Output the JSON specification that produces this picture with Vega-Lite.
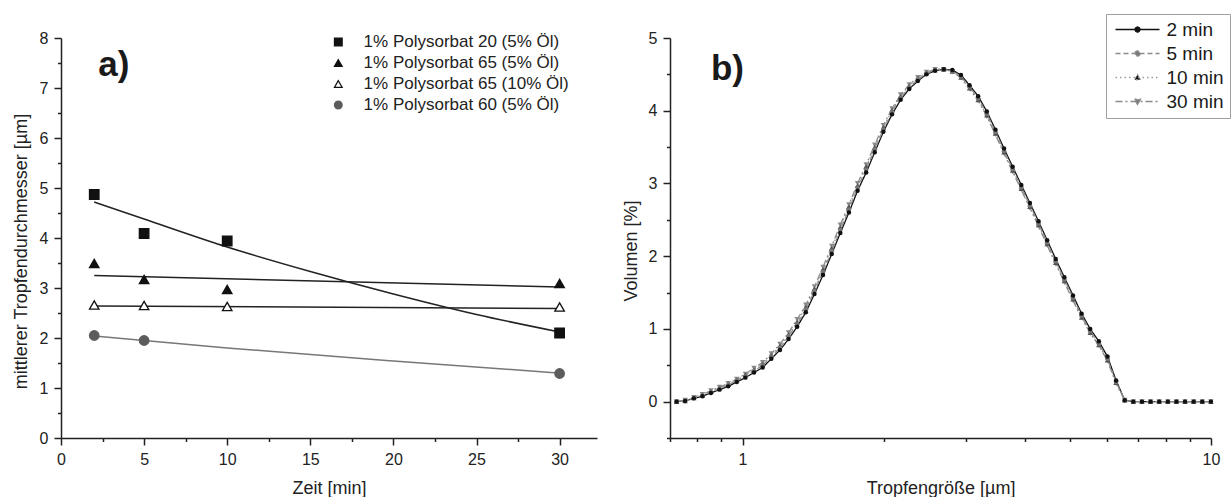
{
  "$schema": "https://vega.github.io/schema/vega-lite/v6.json",
  "background": "white",
  "padding": {"left": 12, "top": 13, "right": 0, "bottom": 0},
  "spacing": 25,
  "resolve": {
    "scale": {"shape": "independent", "fill": "independent", "stroke": "independent", "strokeDash": "independent", "color": "independent"},
    "legend": {"shape": "independent", "fill": "independent", "stroke": "independent", "strokeDash": "independent", "color": "independent"}
  },
  "config": {
    "font": "Liberation Sans",
    "view": {"stroke": null},
    "axis": {
      "grid": false,
      "domainColor": "#222222",
      "domainWidth": 1.5,
      "tickColor": "#222222",
      "tickWidth": 1.5,
      "labelColor": "#222222",
      "labelFont": "Liberation Sans",
      "labelFontSize": 16,
      "labelPadding": 6,
      "titleColor": "#222222",
      "titleFont": "Liberation Sans",
      "titleFontSize": 18,
      "titleFontWeight": "normal"
    },
    "legend": {"labelFont": "Liberation Sans"}
  },
  "datasets": {
    "messwerte": [
      {"Probe": "1% Polysorbat 20 (5% Öl)", "Zeit": 2, "D": 4.87},
      {"Probe": "1% Polysorbat 20 (5% Öl)", "Zeit": 5, "D": 4.09},
      {"Probe": "1% Polysorbat 20 (5% Öl)", "Zeit": 10, "D": 3.94},
      {"Probe": "1% Polysorbat 20 (5% Öl)", "Zeit": 30, "D": 2.1},
      {"Probe": "1% Polysorbat 65 (5% Öl)", "Zeit": 2, "D": 3.49},
      {"Probe": "1% Polysorbat 65 (5% Öl)", "Zeit": 5, "D": 3.17},
      {"Probe": "1% Polysorbat 65 (5% Öl)", "Zeit": 10, "D": 2.97},
      {"Probe": "1% Polysorbat 65 (5% Öl)", "Zeit": 30, "D": 3.09},
      {"Probe": "1% Polysorbat 65 (10% Öl)", "Zeit": 2, "D": 2.66},
      {"Probe": "1% Polysorbat 65 (10% Öl)", "Zeit": 5, "D": 2.65},
      {"Probe": "1% Polysorbat 65 (10% Öl)", "Zeit": 10, "D": 2.63},
      {"Probe": "1% Polysorbat 65 (10% Öl)", "Zeit": 30, "D": 2.62},
      {"Probe": "1% Polysorbat 60 (5% Öl)", "Zeit": 2, "D": 2.05},
      {"Probe": "1% Polysorbat 60 (5% Öl)", "Zeit": 5, "D": 1.95},
      {"Probe": "1% Polysorbat 60 (5% Öl)", "Zeit": 30, "D": 1.29}
    ],
    "anpassung": [
      {"Probe": "1% Polysorbat 20 (5% Öl)", "Zeit": 2, "D": 4.72},
      {"Probe": "1% Polysorbat 20 (5% Öl)", "Zeit": 5, "D": 4.38},
      {"Probe": "1% Polysorbat 20 (5% Öl)", "Zeit": 10, "D": 3.82},
      {"Probe": "1% Polysorbat 20 (5% Öl)", "Zeit": 15, "D": 3.33},
      {"Probe": "1% Polysorbat 20 (5% Öl)", "Zeit": 20, "D": 2.88},
      {"Probe": "1% Polysorbat 20 (5% Öl)", "Zeit": 25, "D": 2.47},
      {"Probe": "1% Polysorbat 20 (5% Öl)", "Zeit": 30, "D": 2.12},
      {"Probe": "1% Polysorbat 65 (5% Öl)", "Zeit": 2, "D": 3.25},
      {"Probe": "1% Polysorbat 65 (5% Öl)", "Zeit": 30, "D": 3.02},
      {"Probe": "1% Polysorbat 65 (10% Öl)", "Zeit": 2, "D": 2.64},
      {"Probe": "1% Polysorbat 65 (10% Öl)", "Zeit": 30, "D": 2.59},
      {"Probe": "1% Polysorbat 60 (5% Öl)", "Zeit": 2, "D": 2.04},
      {"Probe": "1% Polysorbat 60 (5% Öl)", "Zeit": 10, "D": 1.8},
      {"Probe": "1% Polysorbat 60 (5% Öl)", "Zeit": 20, "D": 1.54},
      {"Probe": "1% Polysorbat 60 (5% Öl)", "Zeit": 30, "D": 1.3}
    ],
    "verteilung": [
      {"d": 0.723, "2 min": 0, "5 min": 0, "10 min": 0, "30 min": 0},
      {"d": 0.754, "2 min": 0.01, "5 min": 0.01, "10 min": 0.01, "30 min": 0.02},
      {"d": 0.787, "2 min": 0.045, "5 min": 0.05, "10 min": 0.05, "30 min": 0.06},
      {"d": 0.821, "2 min": 0.075, "5 min": 0.08, "10 min": 0.09, "30 min": 0.1},
      {"d": 0.856, "2 min": 0.12, "5 min": 0.13, "10 min": 0.14, "30 min": 0.15},
      {"d": 0.893, "2 min": 0.165, "5 min": 0.18, "10 min": 0.19, "30 min": 0.2},
      {"d": 0.932, "2 min": 0.21, "5 min": 0.23, "10 min": 0.24, "30 min": 0.25},
      {"d": 0.972, "2 min": 0.27, "5 min": 0.29, "10 min": 0.3, "30 min": 0.31},
      {"d": 1.014, "2 min": 0.33, "5 min": 0.35, "10 min": 0.37, "30 min": 0.38},
      {"d": 1.058, "2 min": 0.4, "5 min": 0.42, "10 min": 0.44, "30 min": 0.46},
      {"d": 1.104, "2 min": 0.47, "5 min": 0.5, "10 min": 0.52, "30 min": 0.54},
      {"d": 1.152, "2 min": 0.59, "5 min": 0.62, "10 min": 0.64, "30 min": 0.66},
      {"d": 1.202, "2 min": 0.71, "5 min": 0.74, "10 min": 0.77, "30 min": 0.79},
      {"d": 1.254, "2 min": 0.86, "5 min": 0.9, "10 min": 0.92, "30 min": 0.95},
      {"d": 1.308, "2 min": 1.03, "5 min": 1.07, "10 min": 1.1, "30 min": 1.13},
      {"d": 1.365, "2 min": 1.23, "5 min": 1.27, "10 min": 1.3, "30 min": 1.33},
      {"d": 1.424, "2 min": 1.48, "5 min": 1.52, "10 min": 1.55, "30 min": 1.58},
      {"d": 1.485, "2 min": 1.74, "5 min": 1.78, "10 min": 1.82, "30 min": 1.85},
      {"d": 1.55, "2 min": 2.03, "5 min": 2.07, "10 min": 2.11, "30 min": 2.14},
      {"d": 1.617, "2 min": 2.32, "5 min": 2.36, "10 min": 2.4, "30 min": 2.43},
      {"d": 1.687, "2 min": 2.6, "5 min": 2.64, "10 min": 2.68, "30 min": 2.71},
      {"d": 1.76, "2 min": 2.9, "5 min": 2.94, "10 min": 2.97, "30 min": 3.0},
      {"d": 1.836, "2 min": 3.15, "5 min": 3.19, "10 min": 3.23, "30 min": 3.26},
      {"d": 1.915, "2 min": 3.43, "5 min": 3.47, "10 min": 3.5, "30 min": 3.53},
      {"d": 1.998, "2 min": 3.71, "5 min": 3.74, "10 min": 3.77, "30 min": 3.8},
      {"d": 2.085, "2 min": 3.95, "5 min": 3.98, "10 min": 4.01, "30 min": 4.03},
      {"d": 2.175, "2 min": 4.15, "5 min": 4.18, "10 min": 4.2, "30 min": 4.22},
      {"d": 2.269, "2 min": 4.3, "5 min": 4.32, "10 min": 4.34, "30 min": 4.36},
      {"d": 2.367, "2 min": 4.41, "5 min": 4.43, "10 min": 4.44, "30 min": 4.46},
      {"d": 2.469, "2 min": 4.5, "5 min": 4.51, "10 min": 4.52, "30 min": 4.53},
      {"d": 2.576, "2 min": 4.55, "5 min": 4.56, "10 min": 4.56, "30 min": 4.57},
      {"d": 2.688, "2 min": 4.57, "5 min": 4.57, "10 min": 4.57, "30 min": 4.57},
      {"d": 2.804, "2 min": 4.56, "5 min": 4.55, "10 min": 4.54, "30 min": 4.54},
      {"d": 2.926, "2 min": 4.49, "5 min": 4.47, "10 min": 4.46, "30 min": 4.45},
      {"d": 3.052, "2 min": 4.35, "5 min": 4.33, "10 min": 4.31, "30 min": 4.3},
      {"d": 3.184, "2 min": 4.2, "5 min": 4.17, "10 min": 4.15, "30 min": 4.14},
      {"d": 3.322, "2 min": 3.99, "5 min": 3.96, "10 min": 3.94, "30 min": 3.92},
      {"d": 3.466, "2 min": 3.74, "5 min": 3.71, "10 min": 3.69, "30 min": 3.67},
      {"d": 3.616, "2 min": 3.48, "5 min": 3.45, "10 min": 3.43, "30 min": 3.41},
      {"d": 3.772, "2 min": 3.23, "5 min": 3.2, "10 min": 3.18, "30 min": 3.16},
      {"d": 3.936, "2 min": 2.98, "5 min": 2.95, "10 min": 2.93, "30 min": 2.91},
      {"d": 4.106, "2 min": 2.73, "5 min": 2.7, "10 min": 2.68, "30 min": 2.66},
      {"d": 4.284, "2 min": 2.48, "5 min": 2.45, "10 min": 2.43, "30 min": 2.41},
      {"d": 4.469, "2 min": 2.22, "5 min": 2.19, "10 min": 2.17, "30 min": 2.15},
      {"d": 4.662, "2 min": 1.96, "5 min": 1.93, "10 min": 1.91, "30 min": 1.89},
      {"d": 4.864, "2 min": 1.71, "5 min": 1.68, "10 min": 1.66, "30 min": 1.64},
      {"d": 5.075, "2 min": 1.46, "5 min": 1.43, "10 min": 1.41, "30 min": 1.39},
      {"d": 5.294, "2 min": 1.21, "5 min": 1.18, "10 min": 1.16, "30 min": 1.15},
      {"d": 5.523, "2 min": 1.0, "5 min": 0.97, "10 min": 0.95, "30 min": 0.94},
      {"d": 5.762, "2 min": 0.83, "5 min": 0.8, "10 min": 0.78, "30 min": 0.77},
      {"d": 6.012, "2 min": 0.62, "5 min": 0.59, "10 min": 0.57, "30 min": 0.56},
      {"d": 6.272, "2 min": 0.29, "5 min": 0.27, "10 min": 0.26, "30 min": 0.25},
      {"d": 6.543, "2 min": 0.02, "5 min": 0.02, "10 min": 0.02, "30 min": 0.02},
      {"d": 6.827, "2 min": 0, "5 min": 0, "10 min": 0, "30 min": 0},
      {"d": 7.122, "2 min": 0, "5 min": 0, "10 min": 0, "30 min": 0},
      {"d": 7.43, "2 min": 0, "5 min": 0, "10 min": 0, "30 min": 0},
      {"d": 7.752, "2 min": 0, "5 min": 0, "10 min": 0, "30 min": 0},
      {"d": 8.087, "2 min": 0, "5 min": 0, "10 min": 0, "30 min": 0},
      {"d": 8.437, "2 min": 0, "5 min": 0, "10 min": 0, "30 min": 0},
      {"d": 8.802, "2 min": 0, "5 min": 0, "10 min": 0, "30 min": 0},
      {"d": 9.183, "2 min": 0, "5 min": 0, "10 min": 0, "30 min": 0},
      {"d": 9.581, "2 min": 0, "5 min": 0, "10 min": 0, "30 min": 0},
      {"d": 9.995, "2 min": 0, "5 min": 0, "10 min": 0, "30 min": 0}
    ]
  },
  "hconcat": [
    {
      "width": 536,
      "height": 400,
      "layer": [
        {
          "data": {"name": "anpassung"},
          "transform": [{"filter": "datum.Probe !== '1% Polysorbat 60 (5% Öl)'"}],
          "mark": {"type": "line", "interpolate": "monotone", "color": "#222222", "strokeWidth": 1.5},
          "encoding": {
            "x": {
              "field": "Zeit", "type": "quantitative",
              "scale": {"domain": [0, 32.25], "nice": false, "zero": false},
              "axis": {
                "title": "Zeit [min]",
                "values": [0, 2.5, 5, 7.5, 10, 12.5, 15, 17.5, 20, 22.5, 25, 27.5, 30],
                "tickCount": 50,
                "labelExpr": "datum.value % 5 === 0 ? format(datum.value, 'd') : ''",
                "tickSize": {"condition": {"test": "datum.value % 5 !== 0", "value": 3.5}, "value": 7},
                "labelOverlap": false,
                "labelFlush": false,
                "titlePadding": 12
              }
            },
            "y": {
              "field": "D", "type": "quantitative",
              "scale": {"domain": [0, 8], "nice": false},
              "axis": {
                "title": "mittlerer Tropfendurchmesser [µm]",
                "values": [0, 0.5, 1, 1.5, 2, 2.5, 3, 3.5, 4, 4.5, 5, 5.5, 6, 6.5, 7, 7.5, 8],
                "tickCount": 50,
                "labelExpr": "datum.value % 1 === 0 ? format(datum.value, 'd') : ''",
                "tickSize": {"condition": {"test": "datum.value % 1 !== 0", "value": 3.5}, "value": 7},
                "labelOverlap": false,
                "titlePadding": 9,
                "titleY": 213
              }
            },
            "detail": {"field": "Probe"}
          }
        },
        {
          "data": {"name": "anpassung"},
          "transform": [{"filter": "datum.Probe === '1% Polysorbat 60 (5% Öl)'"}],
          "mark": {"type": "line", "interpolate": "monotone", "color": "#777777", "strokeWidth": 1.5},
          "encoding": {
            "x": {"field": "Zeit", "type": "quantitative"},
            "y": {"field": "D", "type": "quantitative"}
          }
        },
        {
          "data": {"name": "messwerte"},
          "mark": {"type": "point", "size": 90, "strokeWidth": 1.3, "opacity": 1},
          "encoding": {
            "x": {"field": "Zeit", "type": "quantitative"},
            "y": {"field": "D", "type": "quantitative"},
            "shape": {
              "field": "Probe", "type": "nominal",
              "scale": {
                "domain": ["1% Polysorbat 20 (5% Öl)", "1% Polysorbat 65 (5% Öl)", "1% Polysorbat 65 (10% Öl)", "1% Polysorbat 60 (5% Öl)"],
                "range": ["square", "triangle-up", "triangle-up", "circle"]
              },
              "legend": {"orient": "none", "legendX": 268.8, "legendY": -4.5, "title": null, "padding": 0, "labelFontSize": 17, "labelColor": "#222222", "labelOffset": 16.8, "symbolSize": 60, "symbolStrokeWidth": 1.2, "symbolOpacity": 1, "symbolFillColor": "#000000", "symbolStrokeColor": "#000000", "rowPadding": 3, "labelLimit": 400}
            },
            "fill": {
              "field": "Probe", "type": "nominal",
              "scale": {
                "domain": ["1% Polysorbat 20 (5% Öl)", "1% Polysorbat 65 (5% Öl)", "1% Polysorbat 65 (10% Öl)", "1% Polysorbat 60 (5% Öl)"],
                "range": ["#111111", "#111111", "#ffffff", "#5c5c5c"]
              },
              "legend": {"orient": "none", "legendX": 268.8, "legendY": -4.5, "title": null, "padding": 0, "labelFontSize": 17, "labelColor": "#222222", "labelOffset": 16.8, "symbolSize": 60, "symbolStrokeWidth": 1.2, "symbolOpacity": 1, "symbolFillColor": "#000000", "symbolStrokeColor": "#000000", "rowPadding": 3, "labelLimit": 400}
            },
            "stroke": {
              "field": "Probe", "type": "nominal",
              "scale": {
                "domain": ["1% Polysorbat 20 (5% Öl)", "1% Polysorbat 65 (5% Öl)", "1% Polysorbat 65 (10% Öl)", "1% Polysorbat 60 (5% Öl)"],
                "range": ["#111111", "#111111", "#111111", "#5c5c5c"]
              },
              "legend": {"orient": "none", "legendX": 268.8, "legendY": -4.5, "title": null, "padding": 0, "labelFontSize": 17, "labelColor": "#222222", "labelOffset": 16.8, "symbolSize": 60, "symbolStrokeWidth": 1.2, "symbolOpacity": 1, "symbolFillColor": "#000000", "symbolStrokeColor": "#000000", "rowPadding": 3, "labelLimit": 400}
            }
          }
        },
        {
          "data": {"values": [{"Teil": "a)"}]},
          "mark": {"type": "text", "fontSize": 35, "fontWeight": "bold", "align": "left", "baseline": "alphabetic", "color": "#1a1a1a"},
          "encoding": {
            "x": {"datum": 2.24, "type": "quantitative"},
            "y": {"datum": 7.25, "type": "quantitative"},
            "text": {"field": "Teil"}
          }
        }
      ]
    },
    {
      "width": 541,
      "height": 400,
      "data": {"name": "verteilung"},
      "transform": [{"fold": ["2 min", "5 min", "10 min", "30 min"], "as": ["Dauer", "Volumen"]}],
      "layer": [
        {
          "mark": {"type": "line", "strokeWidth": 1.3, "clip": true},
          "encoding": {
            "x": {
              "field": "d", "type": "quantitative",
              "scale": {"type": "log", "domain": [0.7, 10], "nice": false},
              "axis": {
                "title": "Tropfengröße [µm]",
                "values": [0.7, 0.8, 0.9, 1, 2, 3, 4, 5, 6, 7, 8, 9, 10],
                "tickCount": 50,
                "labelExpr": "datum.value === 1 ? '1' : datum.value === 10 ? '10' : ''",
                "tickSize": {"condition": {"test": "datum.value !== 1 && datum.value !== 10", "value": 3.5}, "value": 7},
                "labelOverlap": false,
                "labelFlush": false,
                "titlePadding": 12
              }
            },
            "y": {
              "field": "Volumen", "type": "quantitative",
              "scale": {"domain": [-0.5, 5], "nice": false, "zero": false},
              "axis": {
                "title": "Volumen [%]",
                "values": [-0.5, 0, 0.5, 1, 1.5, 2, 2.5, 3, 3.5, 4, 4.5, 5],
                "tickCount": 50,
                "labelExpr": "datum.value % 1 === 0 ? format(datum.value, 'd') : ''",
                "tickSize": {"condition": {"test": "datum.value % 1 !== 0", "value": 3.5}, "value": 7},
                "labelOverlap": false,
                "titlePadding": 8,
                "titleY": 212.5
              }
            },
            "stroke": {
              "field": "Dauer", "type": "nominal",
              "scale": {"domain": ["2 min", "5 min", "10 min", "30 min"], "range": ["#111111", "#8a8a8a", "#9a9a9a", "#8a8a8a"]},
              "legend": {"orient": "none", "legendX": 436, "legendY": -24, "title": null, "padding": 6, "strokeColor": "#a0a0a0", "fillColor": "#ffffff", "labelFontSize": 19, "labelColor": "#1a1a1a", "labelOffset": 19.5, "symbolOffset": 16, "symbolSize": 100, "symbolStrokeWidth": 1.3, "symbolOpacity": 1, "symbolStrokeColor": "#000000", "rowPadding": 4, "labelLimit": 300,
                "encoding": {"symbols": {"fill": {"condition": {"test": "datum.value === '5 min' || datum.value === '30 min'", "value": "#777777"}, "value": "#111111"}}}}
            },
            "strokeDash": {
              "field": "Dauer", "type": "nominal",
              "scale": {"domain": ["2 min", "5 min", "10 min", "30 min"], "range": [[1, 0], [5, 3], [1.5, 3], [7, 3, 2, 3]]},
              "legend": {"orient": "none", "legendX": 436, "legendY": -24, "title": null, "padding": 6, "strokeColor": "#a0a0a0", "fillColor": "#ffffff", "labelFontSize": 19, "labelColor": "#1a1a1a", "labelOffset": 19.5, "symbolOffset": 16, "symbolSize": 100, "symbolStrokeWidth": 1.3, "symbolOpacity": 1, "symbolStrokeColor": "#000000", "rowPadding": 4, "labelLimit": 300,
                "encoding": {"symbols": {"fill": {"condition": {"test": "datum.value === '5 min' || datum.value === '30 min'", "value": "#777777"}, "value": "#111111"}}}}
            }
          }
        },
        {
          "transform": [{"filter": "datum.Dauer === '30 min'"}],
          "mark": {"type": "point", "filled": true, "shape": "triangle-down", "size": 30, "opacity": 1, "color": "#8a8a8a"},
          "encoding": {
            "x": {"field": "d", "type": "quantitative"},
            "y": {"field": "Volumen", "type": "quantitative"}
          }
        },
        {
          "transform": [{"filter": "datum.Dauer === '10 min'"}],
          "mark": {"type": "point", "filled": true, "shape": "triangle-up", "size": 30, "opacity": 1, "color": "#555555"},
          "encoding": {
            "x": {"field": "d", "type": "quantitative"},
            "y": {"field": "Volumen", "type": "quantitative"}
          }
        },
        {
          "transform": [{"filter": "datum.Dauer === '5 min'"}],
          "mark": {"type": "point", "filled": true, "shape": "circle", "size": 20, "opacity": 1, "color": "#777777"},
          "encoding": {
            "x": {"field": "d", "type": "quantitative"},
            "y": {"field": "Volumen", "type": "quantitative"}
          }
        },
        {
          "transform": [{"filter": "datum.Dauer === '2 min'"}],
          "mark": {"type": "point", "filled": true, "shape": "circle", "size": 20, "opacity": 1, "color": "#111111"},
          "encoding": {
            "x": {"field": "d", "type": "quantitative"},
            "y": {"field": "Volumen", "type": "quantitative"}
          }
        },
        {
          "mark": {"type": "point", "filled": true, "size": 100, "opacity": 0},
          "encoding": {
            "x": {"field": "d", "type": "quantitative"},
            "y": {"field": "Volumen", "type": "quantitative"},
            "shape": {
              "field": "Dauer", "type": "nominal",
              "scale": {
                "domain": ["2 min", "5 min", "10 min", "30 min"],
                "range": [
                  "M-4.4,0H4.4M0.5,0A0.5,0.5,0,1,1,-0.5,0A0.5,0.5,0,1,1,0.5,0Z",
                  "M-4.4,0H4.4M0.5,0A0.5,0.5,0,1,1,-0.5,0A0.5,0.5,0,1,1,0.5,0Z",
                  "M-4.4,0H4.4M0,-0.6L0.6,0.45L-0.6,0.45Z",
                  "M-4.4,0H4.4M0,0.6L0.6,-0.45L-0.6,-0.45Z"
                ]
              },
              "legend": {"orient": "none", "legendX": 436, "legendY": -24, "title": null, "padding": 6, "strokeColor": "#a0a0a0", "fillColor": "#ffffff", "labelFontSize": 19, "labelColor": "#1a1a1a", "labelOffset": 19.5, "symbolOffset": 16, "symbolSize": 100, "symbolStrokeWidth": 1.3, "symbolOpacity": 1, "symbolStrokeColor": "#000000", "rowPadding": 4, "labelLimit": 300,
                "encoding": {"symbols": {"fill": {"condition": {"test": "datum.value === '5 min' || datum.value === '30 min'", "value": "#777777"}, "value": "#111111"}}}}
            },
            "stroke": {"field": "Dauer", "type": "nominal"},
            "strokeDash": {"field": "Dauer", "type": "nominal"}
          }
        },
        {
          "data": {"values": [{"Teil": "b)"}]},
          "mark": {"type": "text", "fontSize": 35, "fontWeight": "bold", "align": "left", "baseline": "alphabetic", "color": "#1a1a1a"},
          "encoding": {
            "x": {"datum": 0.856, "type": "quantitative"},
            "y": {"datum": 4.42, "type": "quantitative"},
            "text": {"field": "Teil"}
          }
        }
      ]
    }
  ]
}
